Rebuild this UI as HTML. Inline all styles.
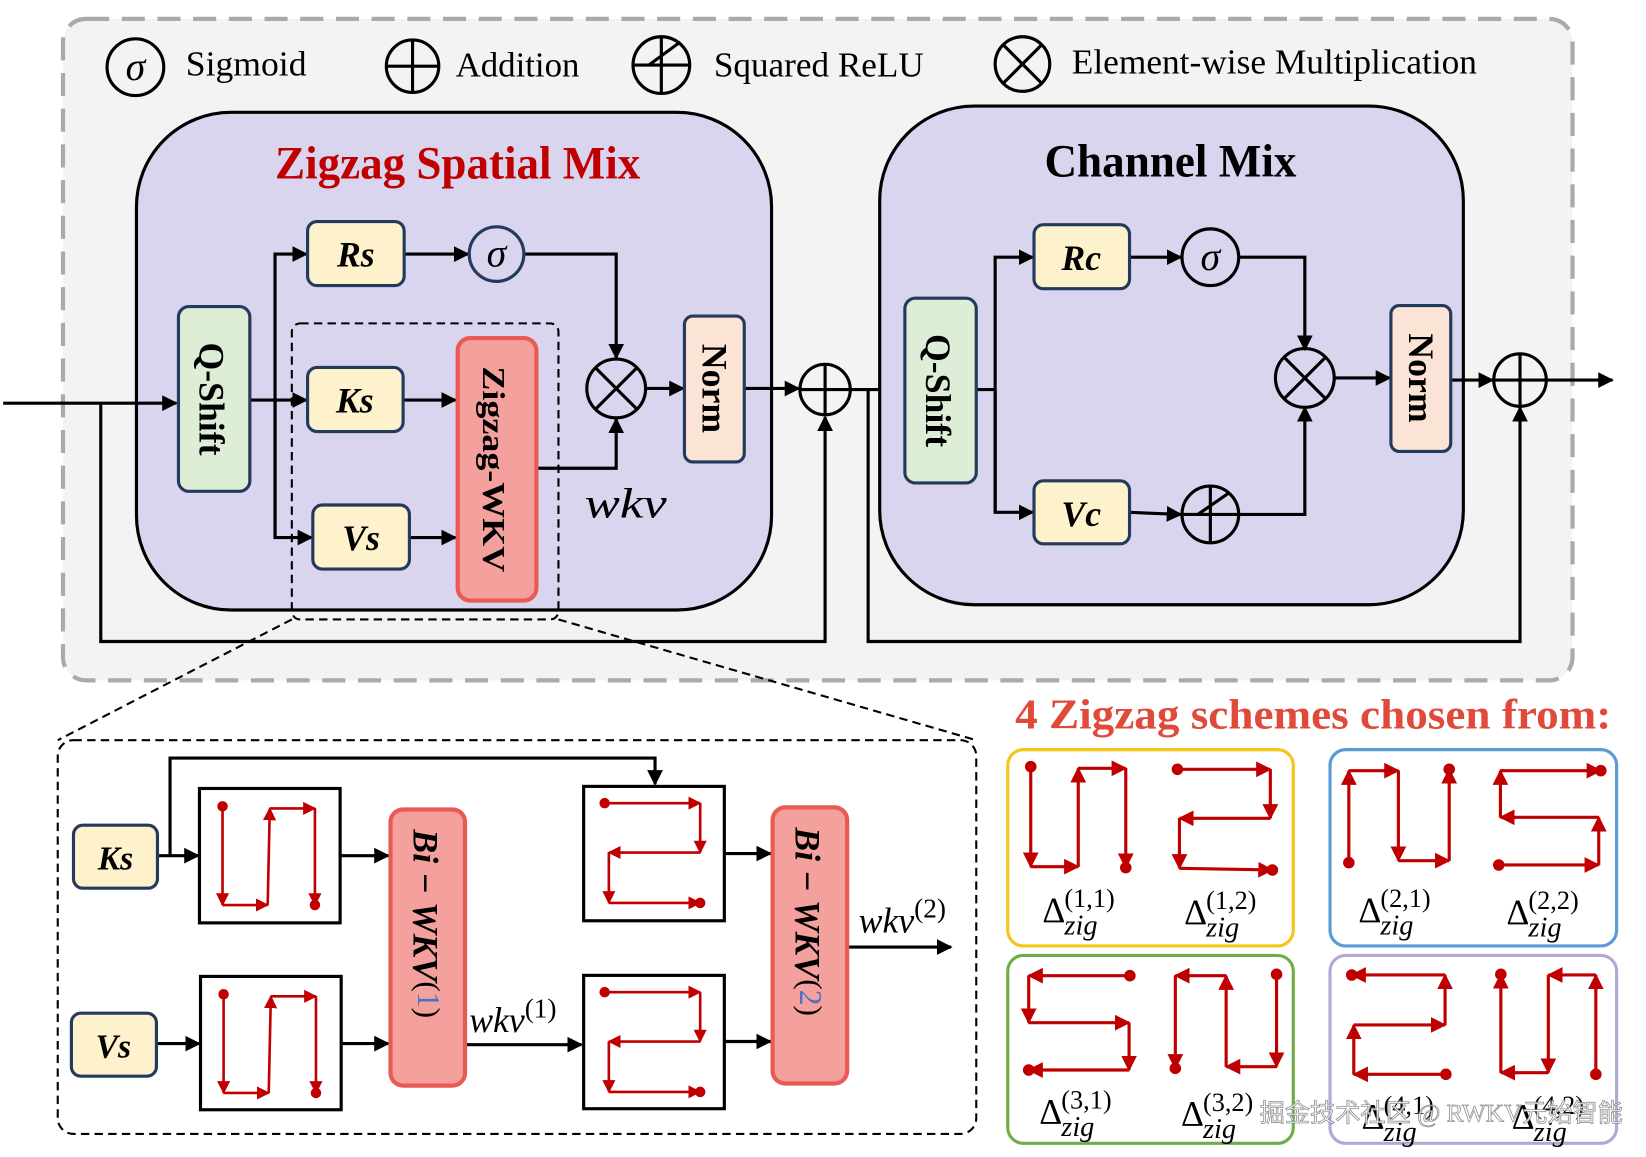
<!DOCTYPE html>
<html><head><meta charset="utf-8"><style>
html,body{margin:0;padding:0;background:#fff;width:1646px;height:1157px;overflow:hidden}
svg{display:block}
text{font-family:"Liberation Serif","DejaVu Serif",serif}
</style></head><body>
<svg width="1646" height="1157" viewBox="0 0 1568 1102" preserveAspectRatio="none" xmlns="http://www.w3.org/2000/svg">
<defs>
<marker id="a" viewBox="0 0 10 10" refX="9" refY="5" markerWidth="5" markerHeight="5" orient="auto" markerUnits="strokeWidth"><path d="M0,0L10,5L0,10z" fill="#000"/></marker>
<marker id="r" viewBox="0 0 10 10" refX="9" refY="5" markerWidth="5" markerHeight="5" orient="auto" markerUnits="strokeWidth"><path d="M0,0L10,5L0,10z" fill="#c00000"/></marker>
</defs>
<rect x="60" y="18" width="1438" height="630" rx="22" fill="#f3f3f3" stroke="#aaa" stroke-width="4" stroke-dasharray="22,12"/>
<g stroke="#000" stroke-width="3" fill="none">
<circle cx="129" cy="64" r="27"/>
<circle cx="393" cy="63" r="25"/><path d="M368,63H418M393,38V88"/>
<circle cx="630" cy="62" r="27"/><path d="M603,62H657M630,35V89M618,62L648,40"/>
<circle cx="974" cy="61" r="26"/><path d="M956,43L992,79M992,43L956,79"/>
</g>
<g font-size="33" fill="#000">
<text x="129" y="76" text-anchor="middle" font-style="italic" font-size="38">σ</text>
<text x="177" y="72" textLength="115" lengthAdjust="spacingAndGlyphs">Sigmoid</text>
<text x="434" y="73" textLength="118" lengthAdjust="spacingAndGlyphs">Addition</text>
<text x="680" y="73" textLength="200" lengthAdjust="spacingAndGlyphs">Squared ReLU</text>
<text x="1021" y="70" textLength="386" lengthAdjust="spacingAndGlyphs">Element-wise Multiplication</text>
</g>
<rect x="130" y="107" width="605" height="474" rx="90" fill="#d9d5ee" stroke="#000" stroke-width="3"/>
<text x="262" y="170" font-size="44" font-weight="bold" fill="#c00000" textLength="348" lengthAdjust="spacingAndGlyphs">Zigzag Spatial Mix</text>
<rect x="278" y="308" width="254" height="282" rx="8" fill="none" stroke="#000" stroke-width="2" stroke-dasharray="8,5"/>
<g stroke="#000" stroke-width="3" fill="none">
<path d="M3,384H168" marker-end="url(#a)"/>
<path d="M96,384V611H786V397" marker-end="url(#a)"/>
<path d="M238,381H292" marker-end="url(#a)"/>
<path d="M262,512V242H292" marker-end="url(#a)"/>
<path d="M262,381V512H297" marker-end="url(#a)"/>
<path d="M385,242H446" marker-end="url(#a)"/>
<path d="M499,242H587V341" marker-end="url(#a)"/>
<path d="M384,381H434" marker-end="url(#a)"/>
<path d="M390,512H434" marker-end="url(#a)"/>
<path d="M511,446H587V399" marker-end="url(#a)"/>
<path d="M615,370H651" marker-end="url(#a)"/>
<path d="M709,370H761" marker-end="url(#a)"/>
<path d="M810,371H860" marker-end="url(#a)"/>
<path d="M827,371V611H1448V388" marker-end="url(#a)"/>
</g>
<rect x="170" y="292" width="68" height="176" rx="10" fill="#deedd6" stroke="#233a5c" stroke-width="3"/>
<text transform="translate(190,380) rotate(90)" text-anchor="middle" font-size="34" font-weight="bold">Q-Shift</text>
<rect x="293" y="211" width="92" height="61" rx="9" fill="#fdf2cc" stroke="#233a5c" stroke-width="3"/>
<text x="339" y="254" text-anchor="middle" font-size="34" font-weight="bold" font-style="italic">Rs</text>
<rect x="293" y="350" width="91" height="61" rx="9" fill="#fdf2cc" stroke="#233a5c" stroke-width="3"/>
<text x="338" y="393" text-anchor="middle" font-size="34" font-weight="bold" font-style="italic">Ks</text>
<rect x="298" y="481" width="92" height="61" rx="9" fill="#fdf2cc" stroke="#233a5c" stroke-width="3"/>
<text x="344" y="524" text-anchor="middle" font-size="34" font-weight="bold" font-style="italic">Vs</text>
<circle cx="473" cy="242" r="26" fill="#d9d5ee" stroke="#233a5c" stroke-width="3"/>
<text x="473" y="254" text-anchor="middle" font-size="38" font-style="italic">σ</text>
<rect x="436" y="322" width="75" height="250" rx="12" fill="#f4a09c" stroke="#ea5a55" stroke-width="4"/>
<text transform="translate(460,447) rotate(90)" text-anchor="middle" font-size="30" font-weight="bold" textLength="196" lengthAdjust="spacingAndGlyphs">Zigzag-WKV</text>
<circle cx="587" cy="370" r="28" fill="none" stroke="#000" stroke-width="3"/>
<path d="M567,350L607,390M607,350L567,390" stroke="#000" stroke-width="3"/>
<rect x="652" y="301" width="57" height="139" rx="8" fill="#fbe4d5" stroke="#233a5c" stroke-width="3"/>
<text transform="translate(669,370) rotate(90)" text-anchor="middle" font-size="34" font-weight="bold">Norm</text>
<circle cx="786" cy="371" r="24" fill="none" stroke="#000" stroke-width="3"/>
<path d="M762,371H810M786,347V395" stroke="#000" stroke-width="3"/>
<text x="557" y="493" font-size="40" font-style="italic" textLength="78" lengthAdjust="spacingAndGlyphs">wkv</text>
<rect x="838" y="101" width="556" height="475" rx="90" fill="#d9d5ee" stroke="#000" stroke-width="3"/>
<text x="995" y="168" font-size="44" font-weight="bold" textLength="240" lengthAdjust="spacingAndGlyphs">Channel Mix</text>
<g stroke="#000" stroke-width="3" fill="none">
<path d="M930,371H948"/>
<path d="M948,488V245H984" marker-end="url(#a)"/>
<path d="M948,371V488H984" marker-end="url(#a)"/>
<path d="M1076,245H1125" marker-end="url(#a)"/>
<path d="M1180,245H1243V333" marker-end="url(#a)"/>
<path d="M1076,488L1125,490" marker-end="url(#a)"/>
<path d="M1180,490H1243V388" marker-end="url(#a)"/>
<path d="M1271,360H1324" marker-end="url(#a)"/>
<path d="M1382,362H1422" marker-end="url(#a)"/>
<path d="M1473,362H1536" marker-end="url(#a)"/>
</g>
<rect x="862" y="284" width="68" height="176" rx="10" fill="#deedd6" stroke="#233a5c" stroke-width="3"/>
<text transform="translate(882,372) rotate(90)" text-anchor="middle" font-size="34" font-weight="bold">Q-Shift</text>
<rect x="985" y="214" width="91" height="61" rx="9" fill="#fdf2cc" stroke="#233a5c" stroke-width="3"/>
<text x="1030" y="257" text-anchor="middle" font-size="34" font-weight="bold" font-style="italic">Rc</text>
<rect x="985" y="458" width="91" height="60" rx="9" fill="#fdf2cc" stroke="#233a5c" stroke-width="3"/>
<text x="1030" y="501" text-anchor="middle" font-size="34" font-weight="bold" font-style="italic">Vc</text>
<circle cx="1153" cy="245" r="27" fill="#d9d5ee" stroke="#000" stroke-width="3"/>
<text x="1153" y="257" text-anchor="middle" font-size="38" font-style="italic">σ</text>
<circle cx="1153" cy="490" r="27" fill="none" stroke="#000" stroke-width="3"/>
<path d="M1126,490H1180M1153,463V517M1141,490L1170,470" stroke="#000" stroke-width="3" fill="none"/>
<circle cx="1243" cy="360" r="28" fill="none" stroke="#000" stroke-width="3"/>
<path d="M1223,340L1263,380M1263,340L1223,380" stroke="#000" stroke-width="3"/>
<rect x="1325" y="291" width="57" height="139" rx="8" fill="#fbe4d5" stroke="#233a5c" stroke-width="3"/>
<text transform="translate(1342,360) rotate(90)" text-anchor="middle" font-size="34" font-weight="bold">Norm</text>
<circle cx="1448" cy="362" r="25" fill="none" stroke="#000" stroke-width="3"/>
<path d="M1423,362H1473M1448,337V387" stroke="#000" stroke-width="3"/>
<path d="M278,590L55,705M532,590L930,705" stroke="#000" stroke-width="2" stroke-dasharray="8,5"/>
<rect x="55" y="705" width="875" height="375" rx="15" fill="none" stroke="#000" stroke-width="2" stroke-dasharray="8,5"/>
<g stroke="#000" stroke-width="3" fill="none">
<path d="M162,815V722H624V747" marker-end="url(#a)"/>
<path d="M150,815H189" marker-end="url(#a)"/>
<path d="M324,815H370" marker-end="url(#a)"/>
<path d="M149,994H190" marker-end="url(#a)"/>
<path d="M325,994H370" marker-end="url(#a)"/>
<path d="M443,995H554" marker-end="url(#a)"/>
<path d="M690,813H734" marker-end="url(#a)"/>
<path d="M690,992H734" marker-end="url(#a)"/>
<path d="M807,902H906" marker-end="url(#a)"/>
</g>
<rect x="70" y="786" width="80" height="60" rx="9" fill="#fdf2cc" stroke="#233a5c" stroke-width="3"/>
<text x="110" y="828" text-anchor="middle" font-size="32" font-weight="bold" font-style="italic">Ks</text>
<rect x="68" y="965" width="81" height="60" rx="9" fill="#fdf2cc" stroke="#233a5c" stroke-width="3"/>
<text x="108" y="1007" text-anchor="middle" font-size="32" font-weight="bold" font-style="italic">Vs</text>
<g fill="#fff" stroke="#000" stroke-width="3">
<rect x="190" y="751" width="134" height="128"/>
<rect x="191" y="930" width="134" height="127"/>
<rect x="556" y="749" width="134" height="128"/>
<rect x="556" y="929" width="134" height="127"/>
</g>
<rect x="372" y="771" width="71" height="263" rx="12" fill="#f4a09c" stroke="#ea5a55" stroke-width="4"/>
<text transform="translate(394,790) rotate(90)" font-size="34" font-weight="bold" font-style="italic">Bi − WKV<tspan font-size="30" font-weight="normal" font-style="normal" dy="-4">(<tspan fill="#4472c4">1</tspan>)</tspan></text>
<rect x="736" y="769" width="71" height="263" rx="12" fill="#f4a09c" stroke="#ea5a55" stroke-width="4"/>
<text transform="translate(758,788) rotate(90)" font-size="34" font-weight="bold" font-style="italic">Bi − WKV<tspan font-size="30" font-weight="normal" font-style="normal" dy="-4">(<tspan fill="#4472c4">2</tspan>)</tspan></text>
<text x="447" y="983" font-size="34" font-style="italic">wkv<tspan font-size="26" font-style="normal" dy="-14">(1)</tspan></text>
<text x="818" y="888" font-size="34" font-style="italic">wkv<tspan font-size="26" font-style="normal" dy="-14">(2)</tspan></text>
<g id="pat"></g>
<text x="967" y="694" font-size="40" font-weight="bold" fill="#e04a3a" textLength="568" lengthAdjust="spacingAndGlyphs">4 Zigzag schemes chosen from:</text>
<rect x="960" y="714" width="272" height="187" rx="15" fill="#fff" stroke="#f5c518" stroke-width="3"/>
<rect x="1267" y="714" width="273" height="187" rx="15" fill="#fff" stroke="#5b9bd5" stroke-width="3"/>
<rect x="960" y="910" width="272" height="179" rx="15" fill="#fff" stroke="#70ad47" stroke-width="3"/>
<rect x="1267" y="910" width="273" height="179" rx="15" fill="#fff" stroke="#b4a7d6" stroke-width="3"/>
<g id="zz"></g>
<g id="lbl" font-size="34"></g>
<text x="1200" y="1068" font-size="24" fill="#fff" stroke="#888" stroke-width="0.8" font-family="'Noto Sans CJK SC',sans-serif" opacity="0.9">掘金技术社区 @ RWKV元始智能</text>
</svg>
<script>
var NS="http://www.w3.org/2000/svg";
function draw(g,pts,sw,r){
  for(var i=0;i<pts.length-1;i++){
    var l=document.createElementNS(NS,"line");
    l.setAttribute("x1",pts[i][0]);l.setAttribute("y1",pts[i][1]);
    l.setAttribute("x2",pts[i+1][0]);l.setAttribute("y2",pts[i+1][1]);
    l.setAttribute("stroke","#c00000");l.setAttribute("stroke-width",sw);
    l.setAttribute("marker-end","url(#r)");g.appendChild(l);
  }
  [pts[0],pts[pts.length-1]].forEach(function(p){
    var c=document.createElementNS(NS,"circle");c.setAttribute("cx",p[0]);c.setAttribute("cy",p[1]);c.setAttribute("r",r);c.setAttribute("fill","#c00000");g.appendChild(c);
  });
}
var zz=document.getElementById("zz");
[
 [[75,80],[75,380],[190,380],[190,85],[305,85],[305,383]],
 [[430,88],[655,88],[655,235],[435,235],[435,385],[660,390]],
 [[845,368],[845,92],[965,92],[965,362],[1088,362],[1088,88]],
 [[1208,375],[1450,375],[1450,232],[1212,232],[1212,92],[1455,92]],
 [[315,707],[70,707],[70,848],[313,848],[313,990],[70,990]],
 [[670,703],[670,980],[548,980],[548,707],[425,707],[425,985]],
 [[1080,1003],[857,1003],[857,855],[1078,855],[1078,705],[852,705]],
 [[1443,1003],[1443,705],[1328,705],[1328,998],[1213,998],[1213,703]]
].forEach(function(p){draw(zz,p.map(function(q){return [952.4+q[0]*0.3935,704.8+q[1]*0.3175];}),3,5.5);});
var pat=document.getElementById("pat");
var A=[[22,17],[22,111],[65,111],[67,19],[110,19],[110,111]];
var B=[[20,16],[111,16],[111,63],[24,63],[24,111],[111,111]];
[[190,751,A],[191,930,A],[556,749,B],[556,929,B]].forEach(function(b){
  draw(pat,b[2].map(function(p){return [p[0]+b[0],p[1]+b[1]];}),2.5,5);
});
var lbl=document.getElementById("lbl");
[[993,878,"(1,1)"],[1128,880,"(1,2)"],[1294,878,"(2,1)"],[1435,880,"(2,2)"],[990,1070,"(3,1)"],[1125,1072,"(3,2)"],[1297,1075,"(4,1)"],[1440,1075,"(4,2)"]].forEach(function(d){
  var t=document.createElementNS(NS,"text");t.setAttribute("x",d[0]);t.setAttribute("y",d[1]);t.textContent="Δ";lbl.appendChild(t);
  var s=document.createElementNS(NS,"text");s.setAttribute("x",d[0]+21);s.setAttribute("y",d[1]-14);s.setAttribute("font-size","25");s.textContent=d[2];lbl.appendChild(s);
  var z=document.createElementNS(NS,"text");z.setAttribute("x",d[0]+21);z.setAttribute("y",d[1]+12);z.setAttribute("font-size","27");z.setAttribute("font-style","italic");z.textContent="zig";lbl.appendChild(z);
});
</script>
</body></html>
